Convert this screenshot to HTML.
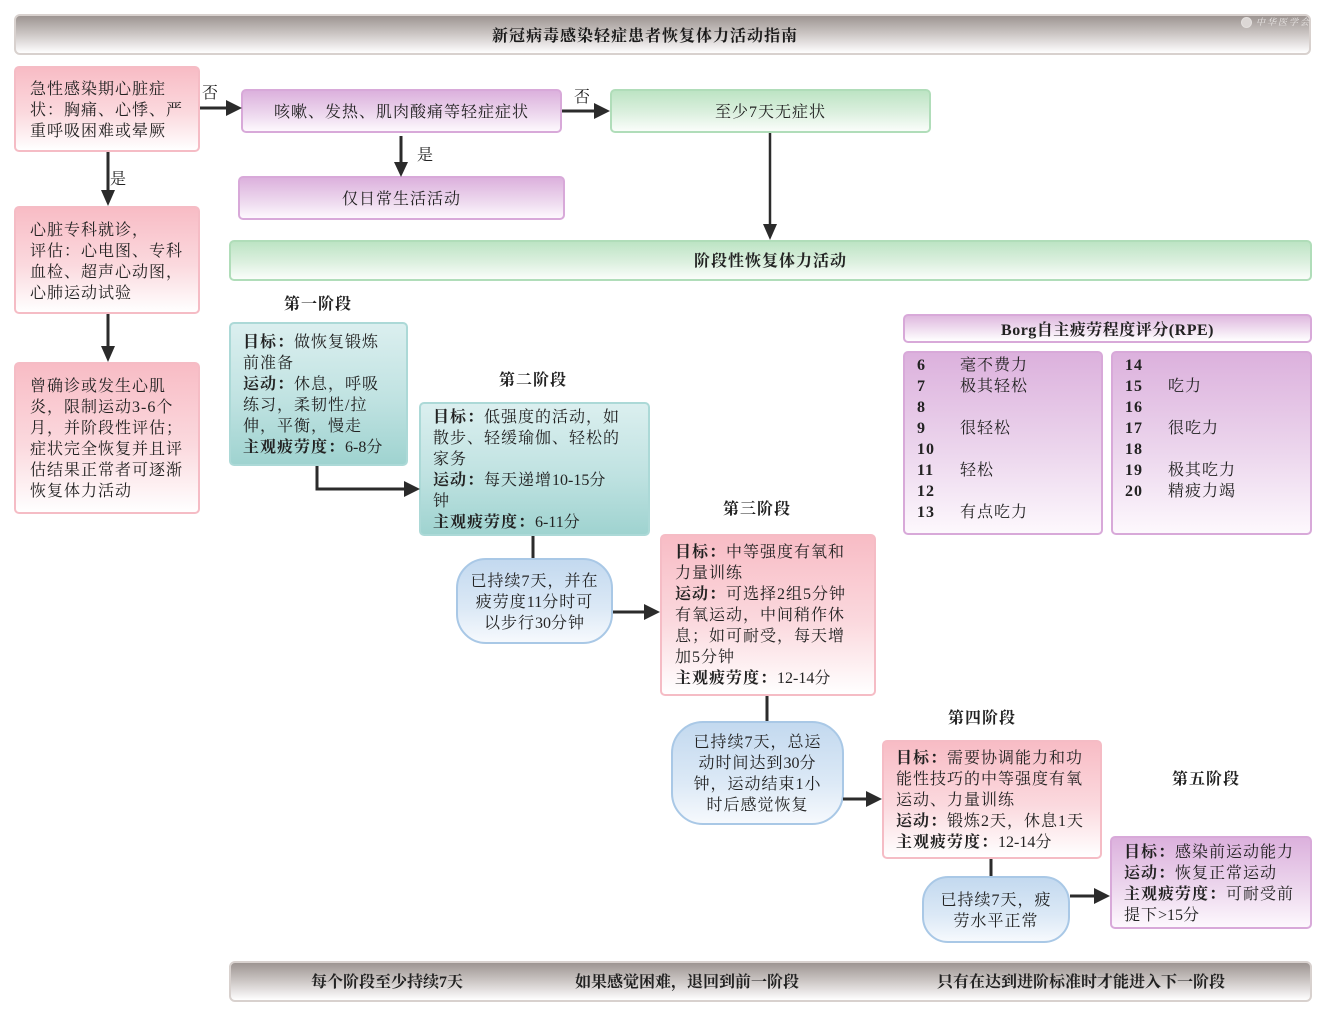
<!DOCTYPE html>
<html><head><meta charset="utf-8">
<style>
*{margin:0;padding:0;box-sizing:border-box}
html,body{width:1323px;height:1022px;background:#fff;overflow:hidden}
body{position:relative;font-family:"Liberation Serif","Noto Serif CJK SC",serif;color:#222;font-size:16px;letter-spacing:1px}
.b{position:absolute;border:2px solid;border-radius:5px}
.pink{border-color:#f5bcc5;background:linear-gradient(to bottom,#f8bcc5 0%,#fbd9de 55%,#fff 100%)}
.purp{border-color:#d8a9d9;background:linear-gradient(to bottom,#dcb1dd 0%,#ecd6ed 55%,#fdf8fd 100%)}
.green{border-color:#b0ddb9;background:linear-gradient(to bottom,#bde4c4 0%,#dcf0df 55%,#fafdfa 100%)}
.teal{border-color:#acd9d7;background:linear-gradient(to bottom,#dbefef 0%,#bfe2e1 55%,#9fd3d0 100%)}
.blue{border-color:#a9c8e6;background:linear-gradient(to bottom,#c3d9ef 0%,#dce9f6 60%,#f6f9fd 100%)}
.gray{border-color:#d8d1ce;background:linear-gradient(to bottom,#9d9592 0%,#c9c3c1 45%,#f3f1f1 88%,#fff 100%)}
.t{position:absolute;line-height:21px;white-space:nowrap;margin-top:1.5px}
.c{text-align:center}
.bd{font-weight:bold}
.n{letter-spacing:0}
svg{position:absolute;left:0;top:0}
</style></head><body>

<!-- title -->
<div class="b gray" style="left:14px;top:14px;width:1297px;height:41px;border-radius:6px"></div>
<div class="t c bd" style="left:445px;width:400px;top:24px;color:#1a1a1a">新冠病毒感染轻症患者恢复体力活动指南</div>
<div style="position:absolute;left:1241px;top:17px;width:11px;height:11px;border-radius:50%;border:1px solid #e4e0de;background:#dcd7d5"></div>
<div class="t" style="left:1256px;top:11px;font-size:9px;line-height:18px;color:#ebe8e7;font-style:italic;letter-spacing:2px">中华医学会</div>

<!-- left column -->
<div class="b pink" style="left:14px;top:66px;width:186px;height:86px"></div>
<div class="t" style="left:30px;top:77.5px">急性感染期心脏症<br>状：胸痛、心悸、严<br>重呼吸困难或晕厥</div>

<div class="b pink" style="left:14px;top:206px;width:186px;height:108px"></div>
<div class="t" style="left:30px;top:218.5px">心脏专科就诊，<br>评估：心电图、专科<br>血检、超声心动图，<br>心肺运动试验</div>

<div class="b pink" style="left:14px;top:362px;width:186px;height:152px"></div>
<div class="t" style="left:30px;top:374.5px">曾确诊或发生心肌<br>炎，限制运动3-6个<br>月，并阶段性评估；<br>症状完全恢复并且评<br>估结果正常者可逐渐<br>恢复体力活动</div>

<!-- top row -->
<div class="b purp" style="left:241px;top:89px;width:321px;height:44px"></div>
<div class="t c" style="left:241px;width:321px;top:100.5px">咳嗽、发热、肌肉酸痛等轻症症状</div>

<div class="b green" style="left:610px;top:89px;width:321px;height:44px"></div>
<div class="t c" style="left:610px;width:321px;top:100.5px">至少7天无症状</div>

<div class="b purp" style="left:238px;top:176px;width:327px;height:44px"></div>
<div class="t c" style="left:238px;width:327px;top:187.5px">仅日常生活活动</div>

<div class="b green" style="left:229px;top:240px;width:1083px;height:41px"></div>
<div class="t c bd" style="left:229px;width:1083px;top:249.5px">阶段性恢复体力活动</div>

<!-- labels -->
<div class="t" style="left:202px;top:81px">否</div>
<div class="t" style="left:574px;top:85px">否</div>
<div class="t" style="left:417px;top:143.5px">是</div>
<div class="t" style="left:110px;top:167.5px">是</div>

<!-- stage titles -->
<div class="t c bd" style="left:268px;width:100px;top:292.5px">第一阶段</div>
<div class="t c bd" style="left:483px;width:100px;top:368.5px">第二阶段</div>
<div class="t c bd" style="left:707px;width:100px;top:497.5px">第三阶段</div>
<div class="t c bd" style="left:932px;width:100px;top:706.5px">第四阶段</div>
<div class="t c bd" style="left:1156px;width:100px;top:767.5px">第五阶段</div>

<!-- stage 1 -->
<div class="b teal" style="left:229px;top:322px;width:179px;height:144px"></div>
<div class="t" style="left:243px;top:330.5px"><b>目标：</b>做恢复锻炼<br>前准备<br><b>运动：</b>休息，呼吸<br>练习，柔韧性/拉<br>伸，平衡，慢走<br><b>主观疲劳度：</b><span class="n">6-8</span>分</div>

<!-- stage 2 -->
<div class="b teal" style="left:419px;top:402px;width:231px;height:134px"></div>
<div class="t" style="left:433px;top:405.5px"><b>目标：</b>低强度的活动，如<br>散步、轻缓瑜伽、轻松的<br>家务<br><b>运动：</b>每天递增<span class="n">10-15</span>分<br>钟<br><b>主观疲劳度：</b><span class="n">6-11</span>分</div>

<div class="b blue" style="left:456px;top:558px;width:157px;height:86px;border-radius:30px"></div>
<div class="t c" style="left:456px;width:157px;top:569.5px">已持续7天，并在<br>疲劳度<span class="n">11</span>分时可<br>以步行<span class="n">30</span>分钟</div>

<!-- stage 3 -->
<div class="b pink" style="left:660px;top:534px;width:216px;height:162px"></div>
<div class="t" style="left:675px;top:540.5px"><b>目标：</b>中等强度有氧和<br>力量训练<br><b>运动：</b>可选择2组5分钟<br>有氧运动，中间稍作休<br>息；如可耐受，每天增<br>加5分钟<br><b>主观疲劳度：</b><span class="n">12-14</span>分</div>

<div class="b blue" style="left:671px;top:721px;width:173px;height:104px;border-radius:32px"></div>
<div class="t c" style="left:671px;width:173px;top:730.5px">已持续7天，总运<br>动时间达到<span class="n">30</span>分<br>钟，运动结束1小<br>时后感觉恢复</div>

<!-- stage 4 -->
<div class="b pink" style="left:882px;top:740px;width:220px;height:119px"></div>
<div class="t" style="left:896px;top:746.5px"><b>目标：</b>需要协调能力和功<br>能性技巧的中等强度有氧<br>运动、力量训练<br><b>运动：</b>锻炼2天，休息1天<br><b>主观疲劳度：</b><span class="n">12-14</span>分</div>

<div class="b blue" style="left:922px;top:876px;width:148px;height:67px;border-radius:26px"></div>
<div class="t c" style="left:922px;width:148px;top:888.5px">已持续7天，疲<br>劳水平正常</div>

<!-- stage 5 -->
<div class="b purp" style="left:1110px;top:836px;width:202px;height:93px"></div>
<div class="t" style="left:1124px;top:840.5px"><b>目标：</b>感染前运动能力<br><b>运动：</b>恢复正常运动<br><b>主观疲劳度：</b>可耐受前<br>提下<span class="n">&gt;15</span>分</div>

<!-- Borg -->
<div class="b purp" style="left:903px;top:314px;width:409px;height:29px;background:linear-gradient(to bottom,#dfb9df 0%,#f2e3f2 60%,#fff 100%)"></div>
<div class="t c bd" style="left:903px;width:409px;top:318.5px;letter-spacing:0.5px">Borg自主疲劳程度评分(RPE)</div>

<div class="b purp" style="left:903px;top:351px;width:200px;height:184px"></div>
<div class="t bd" style="left:917px;top:353.5px">6<br>7<br>8<br>9<br>10<br>11<br>12<br>13</div>
<div class="t" style="left:960px;top:353.5px">毫不费力<br>极其轻松<br><br>很轻松<br><br>轻松<br><br>有点吃力</div>

<div class="b purp" style="left:1111px;top:351px;width:201px;height:184px"></div>
<div class="t bd" style="left:1125px;top:353.5px">14<br>15<br>16<br>17<br>18<br>19<br>20</div>
<div class="t" style="left:1168px;top:353.5px"><br>吃力<br><br>很吃力<br><br>极其吃力<br>精疲力竭</div>

<!-- bottom bar -->
<div class="b gray" style="left:229px;top:961px;width:1083px;height:41px;border-radius:6px"></div>
<div class="t c bd" style="left:287px;width:200px;top:970.5px;letter-spacing:0">每个阶段至少持续7天</div>
<div class="t c bd" style="left:537px;width:300px;top:970.5px;letter-spacing:0">如果感觉困难，退回到前一阶段</div>
<div class="t c bd" style="left:921px;width:320px;top:970.5px;letter-spacing:0">只有在达到进阶标准时才能进入下一阶段</div>

<!-- connectors -->
<svg width="1323" height="1022" viewBox="0 0 1323 1022">
<g stroke="#2b2b2b" stroke-width="3" fill="none">
<line x1="200" y1="108" x2="228" y2="108"/>
<line x1="562" y1="111" x2="596" y2="111"/>
<line x1="401" y1="136" x2="401" y2="164"/>
<line x1="770" y1="133" x2="770" y2="226" stroke-width="2.5"/>
<line x1="108" y1="152" x2="108" y2="192"/>
<line x1="108" y1="314" x2="108" y2="348"/>
<polyline points="317,466 317,489 406,489"/>
<line x1="533" y1="536" x2="533" y2="558"/>
<line x1="613" y1="612" x2="646" y2="612"/>
<line x1="767" y1="696" x2="767" y2="721"/>
<line x1="843" y1="799" x2="868" y2="799"/>
<line x1="991" y1="859" x2="991" y2="876"/>
<line x1="1070" y1="896" x2="1096" y2="896"/>
</g>
<g fill="#2b2b2b">
<polygon points="226,100 242,108 226,116"/>
<polygon points="594,103 610,111 594,119"/>
<polygon points="394,162 408,162 401,177"/>
<polygon points="763,224 777,224 770,240"/>
<polygon points="101,190 115,190 108,206"/>
<polygon points="101,346 115,346 108,362"/>
<polygon points="404,481 420,489 404,497"/>
<polygon points="644,604 660,612 644,620"/>
<polygon points="866,791 882,799 866,807"/>
<polygon points="1094,888 1110,896 1094,904"/>
</g>
</svg>
</body></html>
